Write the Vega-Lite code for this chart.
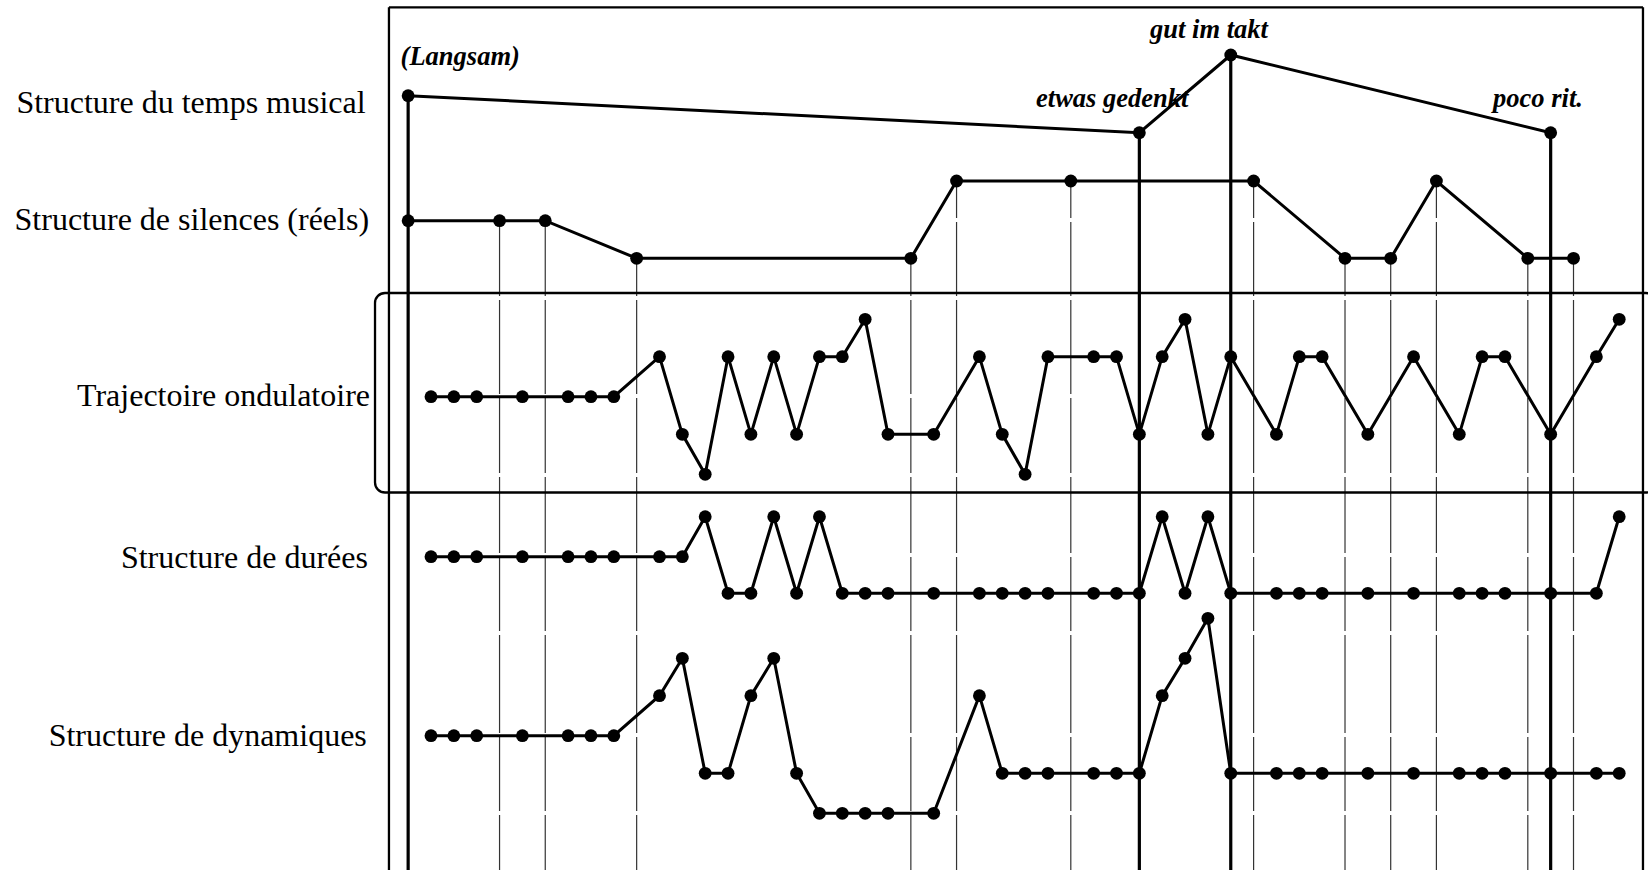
{
  "$schema": "https://vega.github.io/schema/vega-lite/v6.json",
  "width": 1648,
  "height": 870,
  "padding": 0,
  "autosize": {"type": "none"},
  "background": "white",
  "config": {"view": {"stroke": null}},
  "datasets": {
    "series": [
      {"s": "tempo", "k": -1, "y": 77.43},
      {"s": "tempo", "k": 31, "y": 73.73},
      {"s": "tempo", "k": 35, "y": 81.5},
      {"s": "tempo", "k": 49, "y": 73.73},

      {"s": "silence", "k": -1, "y": 64.93},
      {"s": "silence", "k": 3, "y": 64.93},
      {"s": "silence", "k": 5, "y": 64.93},
      {"s": "silence", "k": 9, "y": 61.17},
      {"s": "silence", "k": 21, "y": 61.17},
      {"s": "silence", "k": 23, "y": 68.9},
      {"s": "silence", "k": 28, "y": 68.9},
      {"s": "silence", "k": 36, "y": 68.9},
      {"s": "silence", "k": 40, "y": 61.17},
      {"s": "silence", "k": 42, "y": 61.17},
      {"s": "silence", "k": 44, "y": 68.9},
      {"s": "silence", "k": 48, "y": 61.17},
      {"s": "silence", "k": 50, "y": 61.17},

      {"s": "traj", "k": 0, "y": 47.33},
      {"s": "traj", "k": 1, "y": 47.33},
      {"s": "traj", "k": 2, "y": 47.33},
      {"s": "traj", "k": 4, "y": 47.33},
      {"s": "traj", "k": 6, "y": 47.33},
      {"s": "traj", "k": 7, "y": 47.33},
      {"s": "traj", "k": 8, "y": 47.33},
      {"s": "traj", "k": 10, "y": 51.33},
      {"s": "traj", "k": 11, "y": 43.57},
      {"s": "traj", "k": 12, "y": 39.57},
      {"s": "traj", "k": 13, "y": 51.33},
      {"s": "traj", "k": 14, "y": 43.57},
      {"s": "traj", "k": 15, "y": 51.33},
      {"s": "traj", "k": 16, "y": 43.57},
      {"s": "traj", "k": 17, "y": 51.33},
      {"s": "traj", "k": 18, "y": 51.33},
      {"s": "traj", "k": 19, "y": 55.07},
      {"s": "traj", "k": 20, "y": 43.57},
      {"s": "traj", "k": 22, "y": 43.57},
      {"s": "traj", "k": 24, "y": 51.33},
      {"s": "traj", "k": 25, "y": 43.57},
      {"s": "traj", "k": 26, "y": 39.57},
      {"s": "traj", "k": 27, "y": 51.33},
      {"s": "traj", "k": 29, "y": 51.33},
      {"s": "traj", "k": 30, "y": 51.33},
      {"s": "traj", "k": 31, "y": 43.57},
      {"s": "traj", "k": 32, "y": 51.33},
      {"s": "traj", "k": 33, "y": 55.07},
      {"s": "traj", "k": 34, "y": 43.57},
      {"s": "traj", "k": 35, "y": 51.33},
      {"s": "traj", "k": 37, "y": 43.57},
      {"s": "traj", "k": 38, "y": 51.33},
      {"s": "traj", "k": 39, "y": 51.33},
      {"s": "traj", "k": 41, "y": 43.57},
      {"s": "traj", "k": 43, "y": 51.33},
      {"s": "traj", "k": 45, "y": 43.57},
      {"s": "traj", "k": 46, "y": 51.33},
      {"s": "traj", "k": 47, "y": 51.33},
      {"s": "traj", "k": 49, "y": 43.57},
      {"s": "traj", "k": 51, "y": 51.33},
      {"s": "traj", "k": 52, "y": 55.07},

      {"s": "dur", "k": 0, "y": 31.33},
      {"s": "dur", "k": 1, "y": 31.33},
      {"s": "dur", "k": 2, "y": 31.33},
      {"s": "dur", "k": 4, "y": 31.33},
      {"s": "dur", "k": 6, "y": 31.33},
      {"s": "dur", "k": 7, "y": 31.33},
      {"s": "dur", "k": 8, "y": 31.33},
      {"s": "dur", "k": 10, "y": 31.33},
      {"s": "dur", "k": 11, "y": 31.33},
      {"s": "dur", "k": 12, "y": 35.33},
      {"s": "dur", "k": 13, "y": 27.67},
      {"s": "dur", "k": 14, "y": 27.67},
      {"s": "dur", "k": 15, "y": 35.33},
      {"s": "dur", "k": 16, "y": 27.67},
      {"s": "dur", "k": 17, "y": 35.33},
      {"s": "dur", "k": 18, "y": 27.67},
      {"s": "dur", "k": 19, "y": 27.67},
      {"s": "dur", "k": 20, "y": 27.67},
      {"s": "dur", "k": 22, "y": 27.67},
      {"s": "dur", "k": 24, "y": 27.67},
      {"s": "dur", "k": 25, "y": 27.67},
      {"s": "dur", "k": 26, "y": 27.67},
      {"s": "dur", "k": 27, "y": 27.67},
      {"s": "dur", "k": 29, "y": 27.67},
      {"s": "dur", "k": 30, "y": 27.67},
      {"s": "dur", "k": 31, "y": 27.67},
      {"s": "dur", "k": 32, "y": 35.33},
      {"s": "dur", "k": 33, "y": 27.67},
      {"s": "dur", "k": 34, "y": 35.33},
      {"s": "dur", "k": 35, "y": 27.67},
      {"s": "dur", "k": 37, "y": 27.67},
      {"s": "dur", "k": 38, "y": 27.67},
      {"s": "dur", "k": 39, "y": 27.67},
      {"s": "dur", "k": 41, "y": 27.67},
      {"s": "dur", "k": 43, "y": 27.67},
      {"s": "dur", "k": 45, "y": 27.67},
      {"s": "dur", "k": 46, "y": 27.67},
      {"s": "dur", "k": 47, "y": 27.67},
      {"s": "dur", "k": 49, "y": 27.67},
      {"s": "dur", "k": 51, "y": 27.67},
      {"s": "dur", "k": 52, "y": 35.33},

      {"s": "dyn", "k": 0, "y": 13.43},
      {"s": "dyn", "k": 1, "y": 13.43},
      {"s": "dyn", "k": 2, "y": 13.43},
      {"s": "dyn", "k": 4, "y": 13.43},
      {"s": "dyn", "k": 6, "y": 13.43},
      {"s": "dyn", "k": 7, "y": 13.43},
      {"s": "dyn", "k": 8, "y": 13.43},
      {"s": "dyn", "k": 10, "y": 17.43},
      {"s": "dyn", "k": 11, "y": 21.17},
      {"s": "dyn", "k": 12, "y": 9.67},
      {"s": "dyn", "k": 13, "y": 9.67},
      {"s": "dyn", "k": 14, "y": 17.43},
      {"s": "dyn", "k": 15, "y": 21.17},
      {"s": "dyn", "k": 16, "y": 9.67},
      {"s": "dyn", "k": 17, "y": 5.67},
      {"s": "dyn", "k": 18, "y": 5.67},
      {"s": "dyn", "k": 19, "y": 5.67},
      {"s": "dyn", "k": 20, "y": 5.67},
      {"s": "dyn", "k": 22, "y": 5.67},
      {"s": "dyn", "k": 24, "y": 17.43},
      {"s": "dyn", "k": 25, "y": 9.67},
      {"s": "dyn", "k": 26, "y": 9.67},
      {"s": "dyn", "k": 27, "y": 9.67},
      {"s": "dyn", "k": 29, "y": 9.67},
      {"s": "dyn", "k": 30, "y": 9.67},
      {"s": "dyn", "k": 31, "y": 9.67},
      {"s": "dyn", "k": 32, "y": 17.43},
      {"s": "dyn", "k": 33, "y": 21.17},
      {"s": "dyn", "k": 34, "y": 25.17},
      {"s": "dyn", "k": 35, "y": 9.67},
      {"s": "dyn", "k": 37, "y": 9.67},
      {"s": "dyn", "k": 38, "y": 9.67},
      {"s": "dyn", "k": 39, "y": 9.67},
      {"s": "dyn", "k": 41, "y": 9.67},
      {"s": "dyn", "k": 43, "y": 9.67},
      {"s": "dyn", "k": 45, "y": 9.67},
      {"s": "dyn", "k": 46, "y": 9.67},
      {"s": "dyn", "k": 47, "y": 9.67},
      {"s": "dyn", "k": 49, "y": 9.67},
      {"s": "dyn", "k": 51, "y": 9.67},
      {"s": "dyn", "k": 52, "y": 9.67}
    ],
    "gaps": [
      {"y": 65.0}, {"y": 57.2}, {"y": 47.4}, {"y": 39.5},
      {"y": 31.5}, {"y": 23.7}, {"y": 13.5}, {"y": 5.7}
    ],
    "frame": [
      {"k": -1.84, "k2": -1.84, "y": 86.27, "y2": -2},
      {"k": -1.84, "k2": 53.04, "y": 86.27, "y2": 86.27},
      {"k": 53.04, "k2": 53.04, "y": 86.27, "y2": -2}
    ],
    "box": [
      {"k": -2.45, "k2": 53.6, "y": 57.7, "y2": 37.75}
    ],
    "labels": [
      {"k": -2.86, "y": 75.67, "text": "Structure du temps musical"},
      {"k": -2.71, "y": 64.0, "text": "Structure de silences (réels)"},
      {"k": -2.67, "y": 46.44, "text": "Trajectoire ondulatoire"},
      {"k": -2.76, "y": 30.24, "text": "Structure de durées"},
      {"k": -2.81, "y": 12.4, "text": "Structure de dynamiques"}
    ],
    "notes": [
      {"k": -1.33, "y": 80.5, "text": "(Langsam)"},
      {"k": 26.48, "y": 76.33, "text": "etwas gedenkt"},
      {"k": 31.47, "y": 83.2, "text": "gut im takt"},
      {"k": 46.48, "y": 76.33, "text": "poco rit."}
    ]
  },
  "encoding": {
    "x": {"type": "quantitative", "axis": null, "scale": {"domain": [-18.862, 53.26], "nice": false, "zero": false}},
    "y": {"type": "quantitative", "axis": null, "scale": {"domain": [0, 87], "nice": false, "zero": false}}
  },
  "layer": [
    {
      "data": {"name": "series"},
      "transform": [{"filter": "datum.s === 'silence' && datum.k > -1"}, {"calculate": "-2", "as": "bot"}],
      "mark": {"type": "rule", "color": "#333", "strokeWidth": 1.2},
      "encoding": {
        "x": {"field": "k", "type": "quantitative"},
        "y": {"field": "y", "type": "quantitative"},
        "y2": {"field": "bot"}
      }
    },
    {
      "data": {"name": "gaps"},
      "mark": {"type": "rule", "color": "white", "strokeWidth": 4},
      "encoding": {
        "y": {"field": "y", "type": "quantitative"}
      }
    },
    {
      "data": {"name": "frame"},
      "mark": {"type": "rule", "color": "black", "strokeWidth": 2.3},
      "encoding": {
        "x": {"field": "k", "type": "quantitative"},
        "x2": {"field": "k2"},
        "y": {"field": "y", "type": "quantitative"},
        "y2": {"field": "y2"}
      }
    },
    {
      "data": {"name": "box"},
      "mark": {"type": "rect", "filled": false, "color": "black", "strokeWidth": 2.3, "cornerRadius": 10},
      "encoding": {
        "x": {"field": "k", "type": "quantitative"},
        "x2": {"field": "k2"},
        "y": {"field": "y", "type": "quantitative"},
        "y2": {"field": "y2"}
      }
    },
    {
      "data": {"name": "series"},
      "transform": [{"filter": "datum.s === 'tempo'"}, {"calculate": "-2", "as": "bot"}],
      "mark": {"type": "rule", "color": "black", "strokeWidth": 3.2},
      "encoding": {
        "x": {"field": "k", "type": "quantitative"},
        "y": {"field": "y", "type": "quantitative"},
        "y2": {"field": "bot"}
      }
    },
    {
      "data": {"name": "series"},
      "mark": {"type": "line", "color": "black", "strokeWidth": 3},
      "encoding": {
        "x": {"field": "k", "type": "quantitative"},
        "y": {"field": "y", "type": "quantitative"},
        "detail": {"field": "s"}
      }
    },
    {
      "data": {"name": "series"},
      "mark": {"type": "point", "shape": "circle", "filled": true, "color": "black", "opacity": 1, "size": 165},
      "encoding": {
        "x": {"field": "k", "type": "quantitative"},
        "y": {"field": "y", "type": "quantitative"}
      }
    },
    {
      "data": {"name": "labels"},
      "mark": {"type": "text", "font": "Liberation Serif", "fontSize": 32, "align": "right", "baseline": "alphabetic", "color": "black"},
      "encoding": {
        "x": {"field": "k", "type": "quantitative"},
        "y": {"field": "y", "type": "quantitative"},
        "text": {"field": "text"}
      }
    },
    {
      "data": {"name": "notes"},
      "mark": {"type": "text", "font": "Liberation Serif", "fontSize": 26.5, "fontStyle": "italic", "fontWeight": "bold", "align": "left", "baseline": "alphabetic", "color": "black"},
      "encoding": {
        "x": {"field": "k", "type": "quantitative"},
        "y": {"field": "y", "type": "quantitative"},
        "text": {"field": "text"}
      }
    }
  ]
}
